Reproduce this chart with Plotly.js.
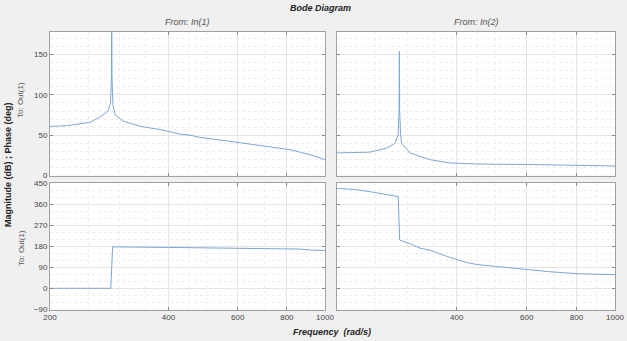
<!DOCTYPE html>
<html>
<head>
<meta charset="utf-8">
<script src="https://cdn.plot.ly/plotly-3.0.1.min.js"></script>
<style>html,body{margin:0;padding:0;background:#f0f0f0;}#chart{width:627px;height:341px;}</style>
</head>
<body>
<div id="chart"></div>
<script>
// ---- data ----
const freqTL = [200, 220, 253, 268, 281, 285, 286.5, 287, 287.5, 289, 293, 307, 339, 381, 428, 454, 481, 573, 683, 815, 916, 1000];
const valTL  = [61, 61.7, 66, 72.5, 80, 90, 120, 185, 120, 88, 75, 67.5, 61, 57, 51.4, 50, 47.3, 42.4, 37.4, 32, 25.8, 19.6];

const freqTR = [200, 242, 267, 280, 285, 286.5, 287, 287.5, 289, 291, 305, 343, 385, 458, 647, 1000];
const valTR  = [28, 29, 34, 40, 50.6, 80, 154, 80, 50, 40, 28, 19.6, 15.5, 14.2, 13.4, 11.8];

const freqBL = [200, 250, 285.5, 288.5, 300, 400, 481, 600, 700, 864, 916, 1000];
const valBL  = [0.5, 0.5, 0.5, 178, 177, 175, 174, 172, 170, 168, 164, 162];

const freqBR = [200, 220, 242, 269, 285, 287.5, 305, 323, 343, 385, 425, 450, 545, 611, 686, 816, 1000];
const valBR  = [427, 423, 413, 399, 392, 206, 191, 172, 163, 132, 110, 102, 87, 80, 71, 62, 59];

const xTicks = [200, 400, 600, 800, 1000];
const xTickTextL = ['200', '400', '600', '800', '1000'];
const xTickTextR = ['', '400', '600', '800', '1000'];
const xMinor = [250, 300, 350, 450, 500, 700, 900];
const topTicks = [0, 50, 100, 150];
const botTicks = [-90, 0, 90, 180, 270, 360, 450];

const title = 'Bode Diagram';
const colTitles = ['From: In(1)', 'From: In(2)'];
const rowTitle = 'To: Out(1)';
const yTitle = 'Magnitude (dB) ; Phase (deg)';
const xTitle = 'Frequency  (rad/s)';

// ---- layout geometry (pixels) ----
const W = 627, H = 341;
const px = v => v / W, py = v => 1 - v / H;
const domL = [px(50), px(325)], domR = [px(337), px(615)];
const domT = [py(175.5), py(32)], domB = [py(309.5), py(183)];

const lineColor = '#7ba7d4';
const tickFont = {family: 'Liberation Sans, Arial, sans-serif', size: 8, color: '#444'};

function xa(dom, anchor, showLabels, tickText) {
  return {
    type: 'log', domain: dom, anchor: anchor,
    range: [Math.log10(200), Math.log10(1000)],
    tickmode: 'array', tickvals: xTicks, ticktext: tickText,
    showticklabels: showLabels, tickfont: tickFont,
    ticks: 'inside', ticklen: 3, tickcolor: '#888',
    showline: true, linecolor: '#a0a0a0', linewidth: 1, mirror: 'ticks',
    showgrid: true, gridcolor: '#e4e4e4', gridwidth: 1,
    minor: {tickmode: 'array', tickvals: xMinor, showgrid: true, gridcolor: '#ededed', griddash: 'dot', ticks: ''},
    zeroline: false, fixedrange: true
  };
}
function ya(dom, anchor, range, ticks, minorStep, showLabels) {
  return {
    domain: dom, anchor: anchor, range: range,
    tickmode: 'array', tickvals: ticks,
    showticklabels: showLabels, tickfont: tickFont,
    ticks: 'inside', ticklen: 3, tickcolor: '#888',
    showline: true, linecolor: '#a0a0a0', linewidth: 1, mirror: 'ticks',
    showgrid: true, gridcolor: '#e4e4e4', gridwidth: 1,
    minor: {dtick: minorStep, tick0: 0, showgrid: true, gridcolor: '#ededed', griddash: 'dot', ticks: ''},
    zeroline: false, fixedrange: true
  };
}

const traceBase = {type: 'scatter', mode: 'lines', line: {color: lineColor, width: 1}, hoverinfo: 'skip', showlegend: false};
const data = [
  Object.assign({}, traceBase, {x: freqTL, y: valTL, xaxis: 'x', yaxis: 'y'}),
  Object.assign({}, traceBase, {x: freqTR, y: valTR, xaxis: 'x2', yaxis: 'y2'}),
  Object.assign({}, traceBase, {x: freqBL, y: valBL, xaxis: 'x3', yaxis: 'y3'}),
  Object.assign({}, traceBase, {x: freqBR, y: valBR, xaxis: 'x4', yaxis: 'y4'})
];

function ann(text, x, y, size, color, angle) {
  return {text: text, x: px(x), y: py(y), xref: 'paper', yref: 'paper', xanchor: 'center', yanchor: 'middle',
          showarrow: false, textangle: angle || 0, font: {size: size, color: color}};
}

const topRange = [0, 178], botRange = [-90, 450];
const layout = {
  width: W, height: H,
  margin: {l: 0, r: 0, t: 0, b: 0, pad: 0},
  paper_bgcolor: '#f0f0f0', plot_bgcolor: '#ffffff',
  font: {family: 'Liberation Sans, Arial, sans-serif'},
  xaxis: xa(domL, 'y', false, xTickTextL),
  xaxis2: xa(domR, 'y2', false, xTickTextR),
  xaxis3: xa(domL, 'y3', true, xTickTextL),
  xaxis4: xa(domR, 'y4', true, xTickTextR),
  yaxis: ya(domT, 'x', topRange, topTicks, 10, true),
  yaxis2: ya(domT, 'x2', topRange, topTicks, 10, false),
  yaxis3: ya(domB, 'x3', botRange, botTicks, 30, true),
  yaxis4: ya(domB, 'x4', botRange, botTicks, 30, false),
  annotations: [
    ann('<b><i>' + title + '</i></b>', 320, 8, 9, '#222'),
    ann('<i>' + colTitles[0] + '</i>', 187.5, 22, 9, '#555'),
    ann('<i>' + colTitles[1] + '</i>', 476, 22, 9, '#555'),
    ann('<b>' + yTitle + '</b>', 8, 165, 9, '#222', -90),
    ann(rowTitle, 21, 100, 8, '#555', -90),
    ann(rowTitle, 21, 248, 8, '#555', -90),
    ann('<b><i>' + xTitle + '</i></b>', 332, 332, 9, '#222')
  ]
};

Plotly.newPlot('chart', data, layout, {staticPlot: true, displayModeBar: false});
</script>
</body>
</html>
